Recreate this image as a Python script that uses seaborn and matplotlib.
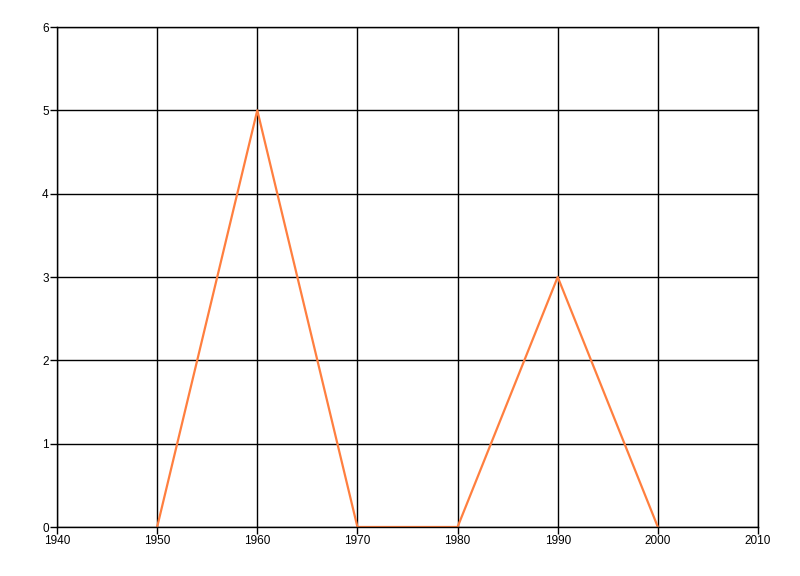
import matplotlib
matplotlib.use("Agg")
import matplotlib.pyplot as plt
import seaborn as sns
import pandas as pd

years = [1950, 1960, 1970, 1980, 1990, 2000]
values = [0, 5, 0, 0, 3, 0]
x_ticks = [1940, 1950, 1960, 1970, 1980, 1990, 2000, 2010]
y_ticks = [0, 1, 2, 3, 4, 5, 6]

sns.set_style("white")
plt.rcParams['font.family'] = ['Liberation Sans', 'DejaVu Sans']

df = pd.DataFrame({"year": years, "value": values})

fig = plt.figure(figsize=(8, 5.76), dpi=100)
ax = fig.add_axes([57/800, 1-527/576, (758-57)/800, (527-27)/576])
sns.lineplot(data=df, x="year", y="value", ax=ax, color="#FF7F3F", linewidth=1.6)

ax.set_xlim(1940, 2010)
ax.set_ylim(0, 6)
ax.set_xticks(x_ticks)
ax.set_yticks(y_ticks)
ax.grid(True, color="black", linewidth=1)
ax.set_axisbelow(True)
for s in ["left", "bottom", "top", "right"]:
    ax.spines[s].set_visible(True)
    ax.spines[s].set_color("black")
    ax.spines[s].set_linewidth(1)
ax.tick_params(axis="both", direction="out", length=5, width=1, color="black",
               labelsize=8.5, labelcolor="black", pad=1, bottom=True, left=True,
               top=False, right=False)
ax.set_xlabel("")
ax.set_ylabel("")
fig.savefig("out.png", dpi=100)
